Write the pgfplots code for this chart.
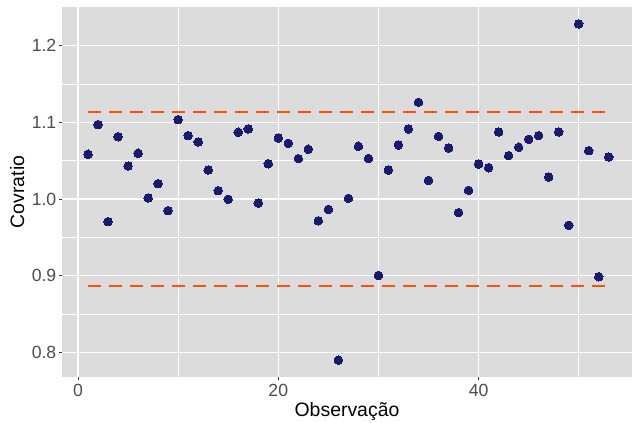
\documentclass[border=0pt]{standalone}
\usepackage{fontspec}
\setmainfont{Liberation Sans}
\usepackage{pgfplots}
\pgfplotsset{compat=1.18}
\usepackage{pgfplotstable}

\definecolor{panelbg}{RGB}{220,220,220}
\definecolor{ptcol}{RGB}{25,25,112}
\definecolor{limcol}{RGB}{255,80,10}
\definecolor{tickgrey}{RGB}{77,77,77}
\definecolor{tickmark}{RGB}{51,51,51}

% covratio per observation
\pgfplotstableread{
obs cov
1 1.0583
2 1.0969
3 0.9705
4 1.0812
5 1.0430
6 1.0596
7 1.0013
8 1.0200
9 0.9848
10 1.1034
11 1.0826
12 1.0743
13 1.0378
14 1.0109
15 0.9996
16 1.0870
17 1.0913
18 0.9948
19 1.0460
20 1.0795
21 1.0726
22 1.0526
23 1.0648
24 0.9717
25 0.9865
26 0.7900
27 1.0009
28 1.0687
29 1.0526
30 0.9005
31 1.0378
32 1.0704
33 1.0913
34 1.1260
35 1.0243
36 1.0817
37 1.0665
38 0.9822
39 1.0113
40 1.0456
41 1.0408
42 1.0874
43 1.0565
44 1.0674
45 1.0778
46 1.0826
47 1.0287
48 1.0874
49 0.9657
50 1.2282
51 1.0630
52 0.8987
53 1.0548
}\covdata

\begin{document}
\begin{tikzpicture}
\begin{axis}[
  at={(0,0)}, anchor=south west,
  scale only axis,
  width=570bp, height=370bp,
  xmin=-1.6, xmax=55.32,
  ymin=0.7681, ymax=1.2502,
  axis background/.style={fill=panelbg},
  axis line style={draw=none},
  xtick={0,20,40},
  ytick={0.8,0.9,1.0,1.1,1.2},
  minor xtick={10,30,50},
  minor ytick={0.85,0.95,1.05,1.15},
  grid=both,
  major grid style={white, line width=1.3bp},
  minor grid style={white, line width=0.65bp},
  tick align=outside,
  major tick length=3bp,
  minor tick length=0pt,
  tick style={tickmark, line width=0.6bp},
  xtick pos=bottom, ytick pos=left,
  /pgf/number format/assume math mode=true,
  yticklabel style={/pgf/number format/fixed, /pgf/number format/fixed zerofill, /pgf/number format/precision=1},
  ticklabel style={font=\fontsize{17.7}{20}\selectfont, text=tickgrey},
  xticklabel style={inner sep=0pt, yshift=-4bp},
  yticklabel style={inner sep=0pt, xshift=-2.5bp},
  xlabel={Observação},
  ylabel={Covratio},
  label style={font=\fontsize{19.5}{22}\selectfont, text=black},
  xlabel style={at={([yshift=-39.5bp]axis description cs:0.5,0)}, anchor=base},
  ylabel style={at={([xshift=-38bp]axis description cs:0,0.5)}, anchor=base},
  clip=false,
]
\addplot[limcol, line width=2.2bp, dash pattern=on 13bp off 8bp] coordinates {(1,1.1132) (53,1.1132)};
\addplot[limcol, line width=2.2bp, dash pattern=on 13bp off 8bp] coordinates {(1,0.8868) (53,0.8868)};
\addplot[only marks, mark=*, mark size=4.3bp, mark options={fill=ptcol, draw=ptcol, line width=0pt}] table[x=obs, y=cov] {\covdata};
\end{axis}
\pgfresetboundingbox
\path[use as bounding box] (-62bp,-46bp) rectangle (570bp,377bp);
\end{tikzpicture}
\end{document}
